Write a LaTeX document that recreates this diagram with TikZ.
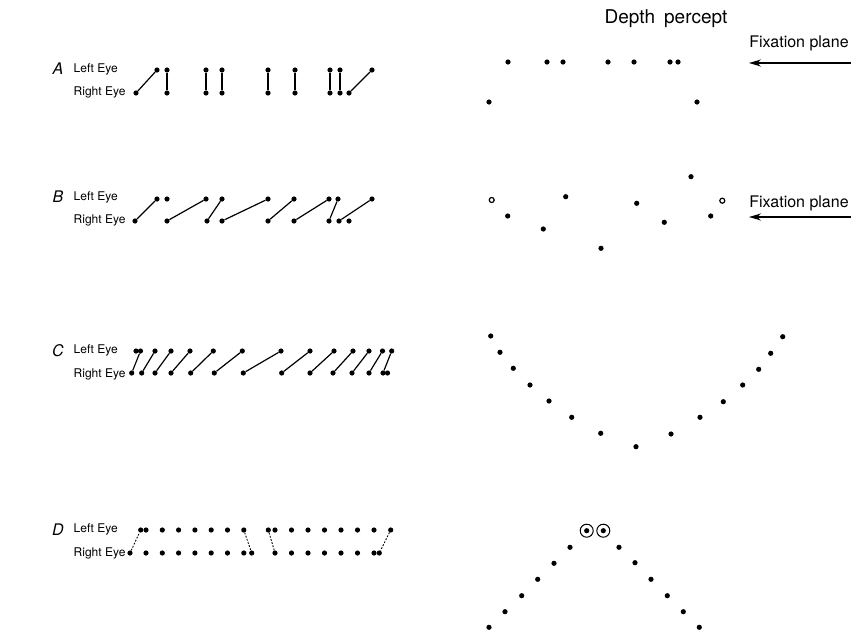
\documentclass[tikz,border=0pt]{standalone}
\usepackage{fontspec}
\setmainfont{TeX Gyre Heros}
\usetikzlibrary{arrows.meta}

\begin{document}
\begin{tikzpicture}[
            x=1pt, y=-1pt,
            dot/.style={circle, fill, inner sep=0pt, minimum size=5.2pt},
            hollow/.style={circle, draw, fill=white, line width=1.2pt, inner sep=0pt, minimum size=5pt},
            ring/.style={circle, draw, line width=1pt, inner sep=0pt, minimum size=13pt},
            link/.style={line width=1.2pt},
            dlink/.style={line width=0.9pt, dash pattern=on 1.8pt off 1.5pt},
            eye/.style={anchor=west, inner sep=0pt, font=\fontsize{12}{12}\selectfont},
            rowlabel/.style={inner sep=0pt, font=\fontsize{16}{16}\selectfont\itshape},
            caption/.style={inner sep=0pt, font=\fontsize{16}{16}\selectfont},
            fixarrow/.style={-{Stealth[length=12pt, width=7pt]}, line width=1.4pt}
        ]
            \useasboundingbox (0,0) rectangle (865,632);

            % row labels
            \node[rowlabel] (labA) at (58,69) {A};
            \node[rowlabel] (labB) at (58,197) {B};
            \node[rowlabel] (labC) at (58,351) {C};
            \node[rowlabel] (labD) at (58,530) {D};
            \foreach \r/\yl/\yr in {a/69/92, b/197/220, c/350/374, d/529/553} {
                \node[eye] (\r left) at (73.5,\yl) {Left Eye};
                \node[eye] (\r right) at (73.5,\yr) {Right Eye};
            }

            % A: stimulus
            \foreach \x [count=\i] in {157,167,206,222,268,295,330,340,372}
                \node[dot] (aL\i) at (\x,70) {};
            \foreach \x [count=\i] in {136,167,206,222,268,295,330,340,349}
                \node[dot] (aR\i) at (\x,93) {};
            \foreach \i in {1,...,9}
                \draw[link] (aR\i) -- (aL\i);

            % B: stimulus
            \foreach \x [count=\i] in {157,167,206,222,268,294,329,338,372}
                \node[dot] (bL\i) at (\x,199) {};
            \foreach \x [count=\i] in {135,167,207,222,268,294,329,339,349}
                \node[dot] (bR\i) at (\x,221) {};
            \draw[link] (bR1) -- (bL1);
            \foreach \i [evaluate=\i as \j using int(\i+1)] in {2,...,8}
                \draw[link] (bR\i) -- (bL\j);

            % C: stimulus
            \foreach \x [count=\i] in {136,140.5,155,171,190,213.3,242.3,281,310,334,353,369,382.5,391.7}
                \node[dot] (cL\i) at (\x,351) {};
            \foreach \x [count=\i] in {131.7,141.7,155,171,190.7,214.3,243.3,281.7,310,333,352,369,383,387.5}
                \node[dot] (cR\i) at (\x,373) {};
            \foreach \i [evaluate=\i as \j using int(\i+1)] in {1,...,13}
                \draw[link] (cR\i) -- (cL\j);

            % D: stimulus
            \foreach \x [count=\i] in {140.7,146,162.3,178.6,194.9,211.2,227.5,243.8,268.3,275,291.5,308,324.5,341,357.5,374,390.7}
                \node[dot] (dL\i) at (\x,530) {};
            \foreach \x [count=\i] in {130,146,162.3,178.6,194.9,211.2,227.5,243.8,251.7,275,291.5,308,324.5,341,357.5,374,379.3}
                \node[dot] (dR\i) at (\x,553) {};
            \draw[dlink] (dR1) -- (dL1);
            \draw[dlink] (dL8) -- (dR9);
            \draw[dlink] (dL9) -- (dR10);
            \draw[dlink] (dL17) -- (dR17);

            % depth percepts
            \node[caption, font=\fontsize{19}{19}\selectfont] (title) at (666,19) {Depth\hspace{9pt}percept};

            \foreach \x/\y [count=\i] in {489/102,508/62,547/62,563/62,608/62,634/62,670/62,678/62,697/102}
                \node[dot] (pa\i) at (\x,\y) {};
            \node[caption] (fixA) at (799,43) {Fixation plane};
            \coordinate (fixAs) at (851,63);
            \coordinate (fixAe) at (749,63);
            \draw[fixarrow] (fixAs) -- (fixAe);

            \node[hollow] (pbo1) at (491.7,200) {};
            \node[hollow] (pbo2) at (722.3,200.7) {};
            \foreach \x/\y [count=\i] in {507.7/216,543.3/229,565.7/196.7,601/248.3,636.7/203.3,664.3/222.3,691/176.7,710.7/216}
                \node[dot] (pb\i) at (\x,\y) {};
            \node[caption] (fixB) at (799,203) {Fixation plane};
            \coordinate (fixBs) at (851,217);
            \coordinate (fixBe) at (749,217);
            \draw[fixarrow] (fixBs) -- (fixBe);

            \foreach \x/\y [count=\i] in {490.7/336,500/352.3,513.3/368.3,530/385,549/401,571.7/417.3,600.7/433.3,636/446.7,671/434,700/417.3,723.3/401.7,742.7/385,758.7/369.3,770.7/353.3,782.7/336.7}
                \node[dot] (pc\i) at (\x,\y) {};

            \foreach \x/\y [count=\i] in {570/547.3,554/563.3,537.7/579.3,521.7/595.7,505/611.7,489/627.3,619/547.3,635/562.7,651/579.3,667.3/595.7,683.3/611.7,699.3/627.3}
                \node[dot] (pd\i) at (\x,\y) {};
            \node[dot] (pdc1) at (586.7,530.7) {};
            \node[dot] (pdc2) at (603.3,530.7) {};
            \node[ring] (pdr1) at (pdc1) {};
            \node[ring] (pdr2) at (pdc2) {};
        \end{tikzpicture}
\end{document}
